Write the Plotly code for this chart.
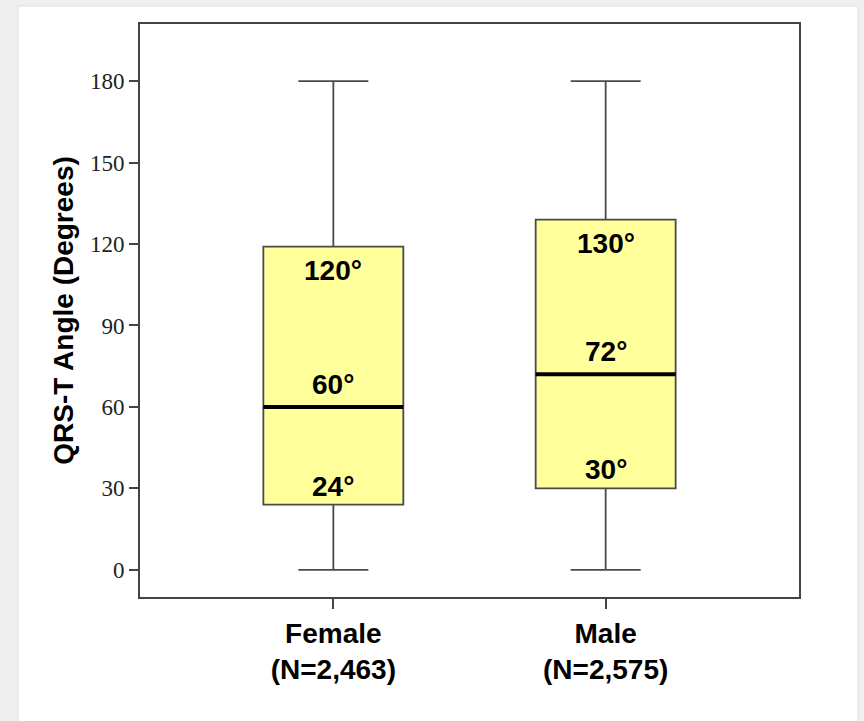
import plotly.graph_objects as go

# ---- data ----
groups = ["Female", "Male"]
group_n = ["(N=2,463)", "(N=2,575)"]
lower_whisker = [0, 0]
q1_vals = [24, 30]
median_vals = [60, 72]
q3_vals = [119, 129]
upper_whisker = [180, 180]
q1_labels = ["24°", "30°"]
median_labels = ["60°", "72°"]
q3_labels = ["120°", "130°"]
y_ticks = [0, 30, 60, 90, 120, 150, 180]

# ---- style ----
BOX_W = 0.514
FILL = "#FFFF9C"
EDGE = "#4a4a4a"
LABEL_FONT = dict(family="Liberation Sans", size=28, color="black", weight="bold")

xpos = list(range(len(groups)))

fig = go.Figure()
for i, g in enumerate(groups):
    fig.add_trace(go.Box(
        x=[xpos[i]], q1=[q1_vals[i]], median=[median_vals[i]], q3=[q3_vals[i]],
        lowerfence=[lower_whisker[i]], upperfence=[upper_whisker[i]],
        width=BOX_W, whiskerwidth=0.5, boxpoints=False,
        fillcolor=FILL, line=dict(color=EDGE, width=1.8),
        name=g, showlegend=False, hoverinfo="skip",
    ))

# thick black median lines (line-ew symbol length = 1.4 * size)
fig.add_trace(go.Scatter(
    x=xpos, y=median_vals, mode="markers",
    marker=dict(symbol="line-ew", size=100, line=dict(color="black", width=4)),
    showlegend=False, hoverinfo="skip",
))

# value labels
for i in xpos:
    fig.add_annotation(x=i, y=q3_vals[i], text=q3_labels[i], showarrow=False,
                       yanchor="top", yshift=-6, font=LABEL_FONT)
    fig.add_annotation(x=i, y=median_vals[i], text=median_labels[i], showarrow=False,
                       yanchor="bottom", yshift=5, font=LABEL_FONT)
    fig.add_annotation(x=i, y=q1_vals[i], text=q1_labels[i], showarrow=False,
                       yanchor="bottom", yshift=1, font=LABEL_FONT)

# card background
fig.add_shape(type="rect", xref="paper", yref="paper",
              x0=-0.1851, x1=1.0895, y0=-0.3, y1=1.0314,
              fillcolor="white", line=dict(color="#dedede", width=1), layer="below")

fig.update_layout(
    width=864, height=721,
    margin=dict(l=140, r=65, t=24, b=124),
    paper_bgcolor="#efefef", plot_bgcolor="white",
    font=dict(family="Liberation Sans", color="black"),
)
fig.update_xaxes(
    range=[-0.71, 1.71], tickmode="array", tickvals=xpos,
    ticktext=[f"{g}<br>{n}" for g, n in zip(groups, group_n)],
    tickfont=LABEL_FONT, ticks="outside", ticklen=10, tickwidth=1.5, tickcolor="#444",
    showline=True, linecolor="#444", linewidth=2, mirror=True,
    showgrid=False, zeroline=False,
)
fig.update_yaxes(
    range=[-10, 201], tickmode="array", tickvals=y_ticks,
    tickfont=dict(family="Liberation Serif", size=23, color="#222"),
    ticks="outside", ticklen=9, tickwidth=1.5, tickcolor="#444",
    showline=True, linecolor="#444", linewidth=2, mirror=True,
    showgrid=False, zeroline=False,
    title=dict(text="QRS-T Angle (Degrees)", font=LABEL_FONT, standoff=8),
)

fig.write_html("out.html", config={"displayModeBar": False},
               post_script="document.body.style.margin='0';document.body.style.background='#efefef';")
